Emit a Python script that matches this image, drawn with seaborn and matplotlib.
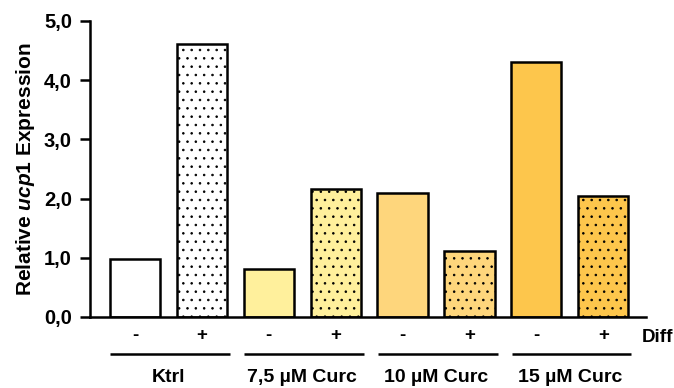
import matplotlib
matplotlib.use("Agg")
import matplotlib.pyplot as plt
import seaborn as sns
import pandas as pd

# Relative ucp1 expression per treatment group, without (-) and with (+) differentiation
groups = ["Ktrl", "7,5 µM Curc", "10 µM Curc", "15 µM Curc"]
diff_labels = ["-", "+"]
expression = [0.98, 4.61, 0.81, 2.16, 2.10, 1.12, 4.30, 2.05]
group_colors = ["#FFFFFF", "#FFF09C", "#FED67C", "#FDC64C"]
y_ticks = [0.0, 1.0, 2.0, 3.0, 4.0, 5.0]

sns.set_style("white")
plt.rcParams["font.family"] = ["Liberation Sans", "DejaVu Sans"]
plt.rcParams["font.weight"] = "bold"
plt.rcParams["mathtext.fontset"] = "custom"
plt.rcParams["mathtext.it"] = "Liberation Sans:bold:italic"
plt.rcParams["mathtext.rm"] = "Liberation Sans:bold"
plt.rcParams["hatch.linewidth"] = 0.6
plt.rcParams["hatch.color"] = "#222222"
for key in ["text.color", "axes.labelcolor", "xtick.color", "ytick.color"]:
    plt.rcParams[key] = "black"

conditions = [f"{g}|{d}" for g in groups for d in diff_labels]
df = pd.DataFrame({"condition": conditions, "expression": expression})
bar_colors = [c for c in group_colors for _ in diff_labels]

fig = plt.figure(figsize=(6.74, 3.88), dpi=100)
ax = fig.add_axes([0.1335, 0.183, 0.825, 0.763])

sns.barplot(data=df, x="condition", y="expression", hue="condition",
            palette=bar_colors, legend=False, width=0.75,
            edgecolor="black", linewidth=1.8, saturation=1, ax=ax)

for i, patch in enumerate(ax.patches):
    if i % 2 == 1:
        patch.set_hatch("..")
    patch.set_edgecolor("black")

ax.set_ylim(0, 5.0)
ax.set_xlim(-0.673, 7.64)
ax.set_yticks(y_ticks)
ax.set_yticklabels([f"{v:.1f}".replace(".", ",") for v in y_ticks],
                   fontsize=14.5, fontweight="bold", color="black")
ax.tick_params(axis="y", direction="out", length=7, width=1.8, color="black", pad=6, left=True)
ax.tick_params(axis="x", length=0)
ax.set_xticks(range(len(conditions)))
ax.set_xticklabels([d for _ in groups for d in diff_labels], fontsize=13.5,
                   fontweight="bold", color="black")
ax.tick_params(axis="x", pad=7)
ax.set_xlabel("")
ax.set_ylabel(r"Relative $\mathit{ucp1}$ Expression", fontsize=15, fontweight="bold",
              labelpad=5, color="black")

for side in ["top", "right"]:
    ax.spines[side].set_visible(False)
for side in ["left", "bottom"]:
    ax.spines[side].set_linewidth(1.8)
    ax.spines[side].set_color("black")

# "Diff" row label to the right of the +/- ticks
ax.text(7.57, -0.34, "Diff", transform=ax.transData, fontsize=13.5, fontweight="bold",
        ha="left", va="center", clip_on=False, color="black")

# Group underlines and names beneath the +/- row
for gi, g in enumerate(groups):
    x0, x1 = 2 * gi - 0.37, 2 * gi + 1.42
    ax.plot([x0, x1], [-0.63, -0.63], color="black", lw=1.8, clip_on=False,
            solid_capstyle="butt")
    ax.text(2 * gi + 0.5, -1.03, g, fontsize=14, fontweight="bold",
            ha="center", va="center", clip_on=False, color="black")

fig.savefig("out.png", dpi=100)
